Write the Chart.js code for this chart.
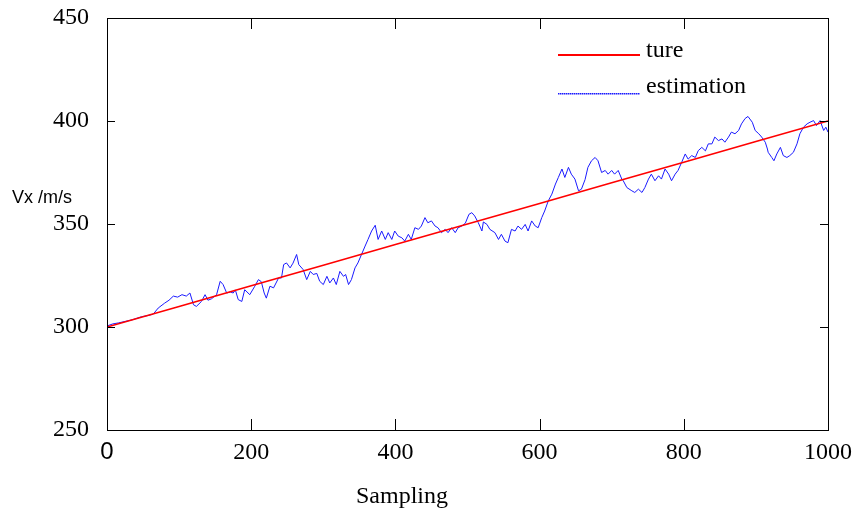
<!DOCTYPE html>
<html><head><meta charset="utf-8">
<script src="https://cdn.jsdelivr.net/npm/chart.js@4/dist/chart.umd.min.js"></script>
<style>html,body{margin:0;padding:0;background:#fff}#wrap{width:852px;height:513px}</style>
</head><body><div id="wrap"><canvas id="c" width="852" height="513"></canvas></div>
<script>
// ---- data ----
const xTicks = [0, 200, 400, 600, 800, 1000];
const yTicks = [250, 300, 350, 400, 450];
const trueX = [0, 100, 200, 300, 400, 500, 600, 700, 800, 900, 1000];
const trueV = [300, 310, 320, 330, 340, 350, 360, 370, 380, 390, 400];
const estX = [0,8,16,25,35,48,56,64,71,80,86,92,98,104,110,115,120,124,131,136,140,145,152,157,161,166,171,175,178,182,187,191,198,205,210,214,218,221,226,231,238,242,245,249,254,258,263,266,272,277,282,286,291,295,300,305,309,314,318,323,328,331,335,339,344,348,353,358,362,367,372,376,381,386,390,395,399,404,409,413,418,422,427,432,436,441,445,450,455,459,464,469,473,478,483,487,492,497,502,506,510,515,520,522,527,531,538,543,547,552,556,561,566,570,575,580,584,589,594,598,603,607,612,617,622,626,631,635,640,644,649,654,658,663,667,672,677,681,686,691,695,700,704,709,714,716,721,728,732,737,742,746,751,755,760,765,769,774,779,783,788,792,797,802,806,811,816,820,825,830,834,839,843,848,853,857,862,866,871,876,880,885,889,895,899,904,908,913,916,917,922,925,929,934,938,943,947,952,957,961,966,971,975,980,984,989,994,997,1000];
const estV = [300.5,301.5,302,302.7,303.5,305,305.5,306.2,309.2,311.6,313,315,314.5,315.7,315,316.5,310.8,310,312.4,315.7,313,313.7,315.7,322.2,320.6,316.5,317,316.5,318,313.3,312.4,318.1,315.7,319.8,323,322,316.5,314,319.8,319,323.8,323.8,330.3,331.1,328.7,331,335.2,330.3,327.9,323,327,325.5,326,322.2,320.6,324.6,321.4,323.8,320.6,327,324.6,325.5,320.6,323,328.7,331.1,335.2,339.3,342.5,346.6,349.4,342.5,346.6,342.5,345.8,342.5,346.6,344.1,343.3,341.7,345,342.5,348.2,347.4,349,353.1,350.6,351.5,349,348.2,345.8,347.4,345.8,348.2,345.8,348.2,349,350.4,354.7,355.5,353.9,350.6,346.6,351,349.8,347.4,345.8,342.5,345,341.7,340.9,347.4,346.6,349,347.4,349.8,346.6,351.5,349,348.2,353.1,356.3,361.2,364.5,369.4,372.6,376.7,372.6,377.5,374.2,371.8,366.1,366.9,371.5,377.5,380.7,382.3,380.7,375,376,374.2,376,374.2,376,371.8,371,367.7,366.1,365.3,366.9,365.3,367.7,371.8,374.2,371,373.4,371.8,376.7,374.2,371,374.2,376,379.9,384,381.5,383.2,382.3,385.6,387.2,385.5,388.9,388.9,392.2,390.5,391.3,389.7,392.2,394.6,393.8,395.4,398.6,401.2,402.2,399.4,395.4,393.8,392.2,389.7,386.4,384.8,382.3,380.7,384,387.2,383.2,382.3,383.2,384.8,388.9,393.8,397,398.6,399.4,400.2,397.8,400.2,395.4,397,394.6];
const seriesNames = ['ture', 'estimation'];
const seriesColors = ['#ff0000', '#1a1aff'];
const yTitle = 'Vx /m/s';
const xTitle = 'Sampling';

const SERIF = "'Liberation Serif', 'Times New Roman', serif";
const SANS = "'Liberation Sans', Arial, sans-serif";

const decor = {
  id: 'decor',
  afterDraw(chart) {
    const ctx = chart.ctx, a = chart.chartArea;
    const xs = chart.scales.x, ys = chart.scales.y;
    ctx.save();
    ctx.setLineDash([]);
    ctx.strokeStyle = '#000'; ctx.lineWidth = 1;
    ctx.strokeRect(Math.round(a.left) + 0.5, Math.round(a.top) + 0.5, Math.round(a.right - a.left), Math.round(a.bottom - a.top));
    ctx.beginPath();
    xTicks.forEach(v => {
      const px = Math.round(xs.getPixelForValue(v)) + 0.5;
      ctx.moveTo(px, a.bottom); ctx.lineTo(px, a.bottom - 11);
      ctx.moveTo(px, a.top); ctx.lineTo(px, a.top + 11);
    });
    yTicks.forEach(v => {
      const py = Math.round(ys.getPixelForValue(v)) + 0.5;
      ctx.moveTo(a.left, py); ctx.lineTo(a.left + 8, py);
      ctx.moveTo(a.right, py); ctx.lineTo(a.right - 8, py);
    });
    ctx.stroke();
    // axis titles
    ctx.fillStyle = '#000';
    ctx.font = '18px ' + SANS;
    ctx.textAlign = 'left'; ctx.textBaseline = 'middle';
    ctx.fillText(yTitle, 12, 198);
    ctx.font = '24px ' + SERIF;
    ctx.textAlign = 'center';
    ctx.fillText(xTitle, 402, 497);
    // legend
    const rows = [{y: 54, ty: 51}, {y: 93, ty: 87}];
    seriesNames.forEach((name, i) => {
      ctx.fillStyle = seriesColors[i];
      if (i === 0) {
        ctx.fillRect(558, rows[i].y, 82, 2);
      } else {
        for (let x = 558; x < 640; x += 2) ctx.fillRect(x, rows[i].y, 1.5, 1.5);
      }
      ctx.fillStyle = '#000';
      ctx.font = '24px ' + SERIF;
      ctx.textAlign = 'left';
      ctx.fillText(name, 646, rows[i].ty);
    });
    ctx.restore();
  }
};

new Chart(document.getElementById('c'), {
  type: 'line',
  data: {
    datasets: [
      { label: seriesNames[0], data: trueX.map((x, i) => ({x, y: trueV[i]})), borderColor: seriesColors[0], borderWidth: 1.6, pointRadius: 0, tension: 0 },
      { label: seriesNames[1], data: estX.map((x, i) => ({x, y: estV[i]})), borderColor: seriesColors[1], borderWidth: 1, pointRadius: 0, tension: 0 }
    ]
  },
  options: {
    responsive: false, animation: false, devicePixelRatio: 1,
    layout: { padding: { left: 0, right: 24, top: 18, bottom: 0 } },
    plugins: { legend: { display: false }, tooltip: { enabled: false } },
    scales: {
      x: {
        type: 'linear', min: 0, max: 1000,
        afterBuildTicks: s => { s.ticks = xTicks.map(v => ({value: v})); },
        afterFit: s => { s.height = 83; s.paddingLeft = 0; s.paddingRight = 0; },
        grid: { display: false }, border: { display: false },
        ticks: {
          color: '#000', padding: 0, maxRotation: 0,
          callback: v => String(v),
          font: c => (c.tick && c.tick.value === 0) ? { family: SANS, size: 24 } : { family: SERIF, size: 24 }
        }
      },
      y: {
        min: 250, max: 450,
        afterBuildTicks: s => { s.ticks = yTicks.map(v => ({value: v})); },
        afterFit: s => { s.width = 107; s.paddingTop = 0; s.paddingBottom = 0; },
        grid: { display: false }, border: { display: false },
        ticks: { color: '#000', padding: 10, callback: v => String(v), font: { family: SERIF, size: 24 } }
      }
    }
  },
  plugins: [decor]
});
</script>
</body></html>
